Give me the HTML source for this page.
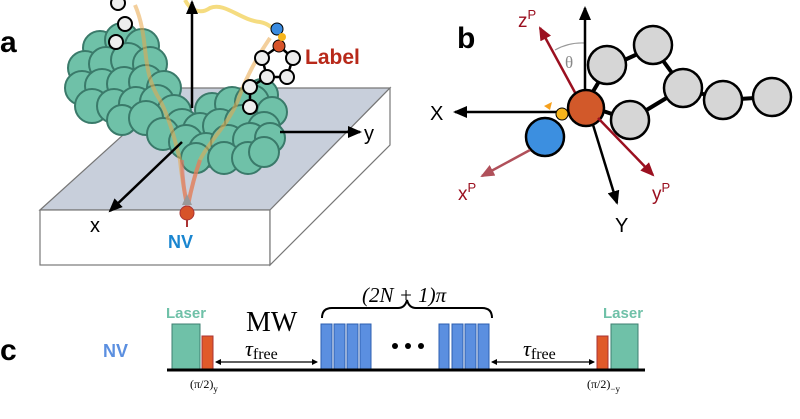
<!DOCTYPE html>
<html><head><meta charset="utf-8"><style>
html,body{margin:0;padding:0;background:#fff;}
svg{display:block;}
text{font-family:"Liberation Sans",sans-serif;}
.s{font-family:"Liberation Serif",serif;}
</style></head><body>
<svg width="800" height="419" viewBox="0 0 800 419" xmlns="http://www.w3.org/2000/svg">
<defs>
<marker id="ab2" markerWidth="14" markerHeight="12" refX="12" refY="6" orient="auto" markerUnits="userSpaceOnUse"><path d="M0,0 L14,6 L0,12 z" fill="#000"/></marker>
<marker id="ar" markerWidth="14" markerHeight="12" refX="12" refY="6" orient="auto" markerUnits="userSpaceOnUse"><path d="M0,0 L14,6 L0,12 z" fill="#9b1020"/></marker>
<marker id="ar2" markerWidth="14" markerHeight="12" refX="12" refY="6" orient="auto" markerUnits="userSpaceOnUse"><path d="M0,0 L14,6 L0,12 z" fill="#b0505a"/></marker>
<marker id="sm" markerWidth="6" markerHeight="6" refX="5" refY="3" orient="auto" markerUnits="userSpaceOnUse"><path d="M0,0 L6,3 L0,6 z" fill="#000"/></marker>
<marker id="sms" markerWidth="6" markerHeight="6" refX="1" refY="3" orient="auto" markerUnits="userSpaceOnUse"><path d="M6,0 L0,3 L6,6 z" fill="#000"/></marker>
</defs>

<!-- Panel a -->
<text x="0" y="52" font-size="30" font-weight="bold">a</text>
<polygon points="40,210 175,88 390,88 270,210" fill="#c8cfdb" stroke="#777" stroke-width="1.2"/>
<rect x="40" y="210" width="230" height="55" fill="#fff" stroke="#777" stroke-width="1.2"/>
<polygon points="270,210 390,88 390,145 270,265" fill="#fff" stroke="#777" stroke-width="1.2"/>

<g fill="#6fc1a8" stroke="#3a7a6a" stroke-width="2">
<circle cx="100" cy="48" r="17"/><circle cx="122" cy="40" r="17"/><circle cx="142" cy="46" r="17"/>
<circle cx="85" cy="68" r="17"/><circle cx="106" cy="64" r="17"/><circle cx="128" cy="60" r="17"/><circle cx="150" cy="64" r="17"/>
<circle cx="82" cy="88" r="17"/><circle cx="102" cy="86" r="17"/><circle cx="124" cy="84" r="17"/><circle cx="146" cy="82" r="17"/><circle cx="164" cy="88" r="17"/>
<circle cx="92" cy="106" r="17"/><circle cx="114" cy="106" r="17"/><circle cx="136" cy="104" r="17"/><circle cx="157" cy="102" r="17"/><circle cx="174" cy="112" r="17"/>
<circle cx="122" cy="120" r="15"/><circle cx="146" cy="118" r="17"/><circle cx="182" cy="126" r="17"/><circle cx="163" cy="134" r="16"/>
<circle cx="262" cy="95" r="16"/><circle cx="212" cy="110" r="17"/><circle cx="232" cy="104" r="17"/><circle cx="252" cy="102" r="17"/><circle cx="272" cy="112" r="15"/>
<circle cx="200" cy="130" r="17"/><circle cx="220" cy="126" r="17"/><circle cx="242" cy="122" r="17"/><circle cx="264" cy="128" r="16"/>
<circle cx="186" cy="142" r="17"/><circle cx="206" cy="150" r="17"/><circle cx="228" cy="142" r="17"/><circle cx="250" cy="140" r="17"/><circle cx="270" cy="138" r="15"/>
<circle cx="196" cy="158" r="15"/><circle cx="224" cy="158" r="16"/><circle cx="248" cy="158" r="16"/><circle cx="264" cy="152" r="15"/>
</g>
<path d="M135,5 C150,40 140,70 160,100 C170,120 175,140 180,160 C182,180 185,195 187,205" fill="none" stroke="#e9a84a" stroke-width="4" opacity="0.55"/>
<path d="M270,38 C255,60 245,80 238,100 C228,125 210,140 200,160 C193,180 190,195 188,205" fill="none" stroke="#e9a84a" stroke-width="4" opacity="0.55"/>
<path d="M182,160 C182,180 185,195 187,205 M200,160 C193,180 190,195 188,205" fill="none" stroke="#e07060" stroke-width="4" opacity="0.6"/>
<path d="M185,0 C190,10 200,15 210,8 C225,2 240,20 260,22 C270,24 275,30 278,35" fill="none" stroke="#f5dc80" stroke-width="4"/>
<line x1="192" y1="108" x2="192" y2="2" stroke="#000" stroke-width="2.5" marker-end="url(#ab2)"/>
<line x1="280" y1="132" x2="360" y2="132" stroke="#000" stroke-width="2.5" marker-end="url(#ab2)"/>
<text x="364" y="140" font-size="20">y</text>
<line x1="182" y1="142" x2="110" y2="211" stroke="#000" stroke-width="2.5" marker-end="url(#ab2)"/>
<text x="90" y="232" font-size="20">x</text>
<polygon points="182,205 187,194 192,205" fill="#999"/>
<circle cx="187" cy="213" r="7" fill="#d7532a" stroke="#a33" stroke-width="1"/>
<line x1="187" y1="220" x2="187" y2="227" stroke="#a33" stroke-width="2"/>
<text x="168" y="248" font-size="18" font-weight="bold" fill="#1a86d0">NV</text>
<g fill="#eee" stroke="#000" stroke-width="2">
<circle cx="118" cy="3" r="7"/><circle cx="125" cy="24" r="7"/><circle cx="116" cy="42" r="7"/>
</g>
<g stroke="#000" stroke-width="2.5">
<line x1="262" y1="58" x2="279" y2="46"/><line x1="293" y1="58" x2="279" y2="46"/><line x1="262" y1="58" x2="267" y2="77"/><line x1="293" y1="58" x2="287" y2="77"/><line x1="267" y1="77" x2="287" y2="77"/><line x1="267" y1="77" x2="250" y2="87"/><line x1="250" y1="87" x2="250" y2="107"/>
</g>
<g fill="#eee" stroke="#000" stroke-width="2">
<circle cx="262" cy="58" r="7"/><circle cx="293" cy="58" r="7"/><circle cx="267" cy="77" r="7"/><circle cx="287" cy="77" r="7"/><circle cx="250" cy="87" r="7"/><circle cx="250" cy="107" r="7"/>
</g>
<circle cx="277" cy="29" r="6" fill="#3a8be0" stroke="#000" stroke-width="1"/>
<circle cx="279" cy="46" r="6" fill="#d7532a" stroke="#000" stroke-width="1"/>
<circle cx="282" cy="37" r="4" fill="#f6b51c"/>
<text x="305" y="64" font-size="21" font-weight="bold" fill="#b8291a">Label</text>

<!-- Panel b -->
<text x="457" y="48" font-size="30" font-weight="bold">b</text>
<path d="M555,50 A55,55 0 0 1 584,43" fill="none" stroke="#999" stroke-width="1.2"/>
<text x="565" y="68" font-size="17" fill="#888" class="s">θ</text>
<g stroke="#000" stroke-width="4">
<line x1="585" y1="105" x2="607" y2="68"/><line x1="607" y1="68" x2="653" y2="47"/><line x1="653" y1="47" x2="683" y2="88"/><line x1="683" y1="88" x2="630" y2="120"/><line x1="630" y1="120" x2="585" y2="105"/><line x1="683" y1="88" x2="723" y2="100"/><line x1="723" y1="100" x2="772" y2="97"/>
</g>
<line x1="585" y1="105" x2="585" y2="8" stroke="#000" stroke-width="2.5" marker-end="url(#ab2)"/>
<g fill="#d6d6d6" stroke="#000" stroke-width="2.5">
<circle cx="607" cy="65" r="19"/><circle cx="653" cy="45" r="19"/><circle cx="683" cy="88" r="19"/><circle cx="630" cy="120" r="19"/><circle cx="723" cy="100" r="19"/><circle cx="772" cy="97" r="19"/>
</g>
<line x1="585" y1="112" x2="455" y2="112" stroke="#000" stroke-width="2.5" marker-end="url(#ab2)"/>
<text x="430" y="120" font-size="20">X</text>
<line x1="590" y1="115" x2="617" y2="203" stroke="#000" stroke-width="2.5" marker-end="url(#ab2)"/>
<text x="615" y="232" font-size="20">Y</text>
<line x1="578" y1="98" x2="540" y2="28" stroke="#9b1020" stroke-width="2.5" marker-end="url(#ar)"/>
<text x="518" y="27" font-size="19" fill="#9b1020">z<tspan font-size="13" dy="-8">P</tspan></text>
<circle cx="545" cy="137" r="19" fill="#3c8fe0" stroke="#000" stroke-width="2.5"/>
<line x1="530" y1="150" x2="482" y2="176" stroke="#b0505a" stroke-width="2.5" marker-end="url(#ar2)"/>
<text x="458" y="200" font-size="19" fill="#9b1020">x<tspan font-size="13" dy="-8">P</tspan></text>
<circle cx="586" cy="108" r="18" fill="#d2592a" stroke="#000" stroke-width="2.5"/>
<line x1="598" y1="118" x2="653" y2="175" stroke="#9b1020" stroke-width="2.5" marker-end="url(#ar)"/>
<text x="652" y="200" font-size="19" fill="#9b1020">y<tspan font-size="13" dy="-8">P</tspan></text>
<circle cx="562" cy="114" r="6" fill="#f6b51c" stroke="#000" stroke-width="1"/>
<polygon points="544,106 552,102 550,110" fill="#f6a01c"/>

<!-- Panel c -->
<text x="0" y="360" font-size="30" font-weight="bold">c</text>
<text x="103" y="357" font-size="18" font-weight="bold" fill="#5b8fe0">NV</text>
<text x="166" y="318" font-size="15" font-weight="bold" fill="#6fc1a8">Laser</text>
<text x="603" y="318" font-size="15" font-weight="bold" fill="#6fc1a8">Laser</text>
<text x="246" y="331" font-size="28" class="s">MW</text>
<text x="362" y="302" font-size="21" class="s" font-style="italic">(2N + 1)π</text>
<path d="M322,318 Q322,308 332,308 L398,308 Q405,308 407,300 Q409,308 416,308 L482,308 Q492,308 492,318" fill="none" stroke="#000" stroke-width="2"/>
<g fill="#6fc1a8" stroke="#3e7f70" stroke-width="1"><rect x="172" y="324" width="28" height="46"/><rect x="611" y="324" width="27" height="46"/></g>
<g fill="#e05a2a" stroke="#a33" stroke-width="1"><rect x="202" y="336" width="11" height="34"/><rect x="597" y="336" width="11" height="34"/></g>
<g fill="#5b8fe0" stroke="#2c5fb0" stroke-width="1">
<rect x="321" y="324" width="11" height="46"/><rect x="334" y="324" width="11" height="46"/><rect x="347" y="324" width="11" height="46"/><rect x="360" y="324" width="11" height="46"/>
<rect x="439" y="324" width="10" height="46"/><rect x="452" y="324" width="11" height="46"/><rect x="465" y="324" width="11" height="46"/><rect x="478" y="324" width="11" height="46"/>
</g>
<g fill="#000"><circle cx="395" cy="346" r="3"/><circle cx="408" cy="346" r="3"/><circle cx="421" cy="346" r="3"/></g>
<line x1="167" y1="370" x2="645" y2="370" stroke="#000" stroke-width="3"/>
<line x1="216" y1="362" x2="317" y2="362" stroke="#000" stroke-width="1.2" marker-end="url(#sm)" marker-start="url(#sms)"/>
<line x1="492" y1="362" x2="594" y2="362" stroke="#000" stroke-width="1.2" marker-end="url(#sm)" marker-start="url(#sms)"/>
<text x="245" y="356" font-size="22" class="s" font-style="italic">τ<tspan font-size="16" font-style="normal" dy="3">free</tspan></text>
<text x="523" y="356" font-size="22" class="s" font-style="italic">τ<tspan font-size="16" font-style="normal" dy="3">free</tspan></text>
<text x="190" y="388" font-size="12" class="s">(π/2)<tspan font-size="9" dy="4">y</tspan></text>
<text x="587" y="388" font-size="12" class="s">(π/2)<tspan font-size="9" dy="4">−y</tspan></text>
</svg>
</body></html>
